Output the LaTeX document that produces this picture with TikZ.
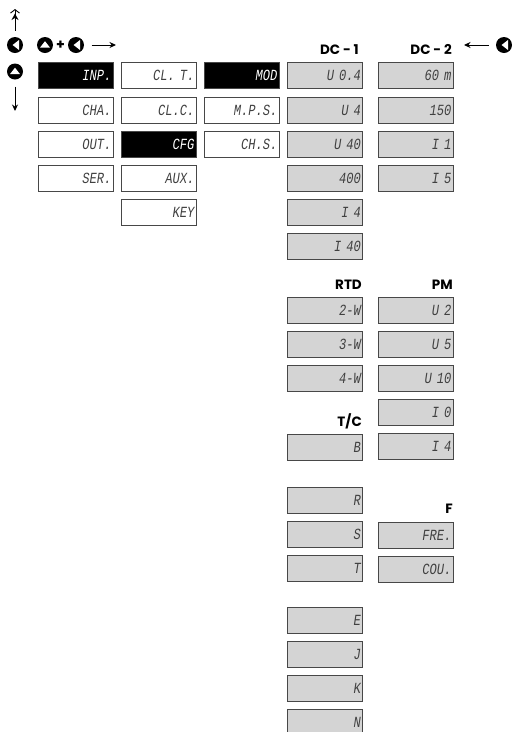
\documentclass[tikz,border=0pt]{standalone}
\usepackage{fontspec}
\setmainfont[FakeStretch=0.78]{Liberation Mono}
\newfontfamily\headfont{Poppins}
\usetikzlibrary{arrows.meta}

\begin{document}
\begin{tikzpicture}[x=1pt,y=-1pt]
\tikzset{
  menubox/.style={rectangle,draw=black!72,line width=0.8pt,minimum width=75pt,minimum height=26pt,inner sep=0pt,outer sep=0pt,text width=72pt,align=right,font=\fontsize{15.5}{15.5}\selectfont\itshape,text=black!75},
  plainbox/.style={menubox,fill=white},
  activebox/.style={menubox,fill=black,text=white},
  optionbox/.style={menubox,fill=black!17},
  headlabel/.style={anchor=base east,inner sep=0pt,font=\headfont\bfseries\fontsize{13.5}{13.5}\selectfont},
  keybase/.style={circle,fill=black,minimum size=16pt,inner sep=0pt,outer sep=0pt},
  keyup/.style={keybase,path picture={\fill[white] ([shift={(-5,2.6)}]path picture bounding box.center) -- ([shift={(5,2.6)}]path picture bounding box.center) -- ([shift={(0,-3.8)}]path picture bounding box.center) -- cycle;}},
  keyleft/.style={keybase,path picture={\fill[white] ([shift={(-2.4,0)}]path picture bounding box.center) -- ([shift={(4,-5)}]path picture bounding box.center) -- ([shift={(4,5)}]path picture bounding box.center) -- cycle;}},
  keyarrow/.style={draw=black,line width=1pt,-{Stealth[length=6.5pt,width=6pt]}},
  fastarrow/.style={draw=black,line width=1pt,-{Stealth[length=6.5pt,width=7pt] Straight Barb[length=3.5pt,width=9pt,line width=0.9pt]}}
}
\useasboundingbox (0,0) rectangle (512,732);
\node[keyleft] (k_back) at (15,45) {};
\node[keyup] (k_down) at (15,71.5) {};
\node[keyup] (k_plusa) at (45,45) {};
\node[inner sep=0pt,font=\headfont\bfseries\fontsize{14}{14}\selectfont] (k_plus) at (60.5,45) {+};
\node[keyleft] (k_plusb) at (76,45) {};
\node[keyleft] (k_prev) at (504,45) {};
\coordinate (c_up) at (15,9);
\coordinate (c_down) at (15,111);
\coordinate (c_next) at (116,45);
\coordinate (c_prev) at (464,45);
\node[activebox] (m_inp) at (75.5,75.5) {INP.};
\node[plainbox] (m_cha) at (75.5,110) {CHA.};
\node[plainbox] (m_out) at (75.5,144) {OUT.};
\node[plainbox] (m_ser) at (75.5,178) {SER.};
\node[plainbox] (m_clt) at (158.5,75.5) {CL. T.};
\node[plainbox] (m_clc) at (158.5,110) {CL.C.};
\node[activebox] (m_cfg) at (158.5,144) {CFG};
\node[plainbox] (m_aux) at (158.5,178) {AUX.};
\node[plainbox] (m_key) at (158.5,212) {KEY};
\node[activebox] (m_mod) at (241.5,75.5) {MOD};
\node[plainbox] (m_mps) at (241.5,110) {M.P.S.};
\node[plainbox] (m_chs) at (241.5,144) {CH.S.};
\node[headlabel] (h_dca) at (359,54) {DC - 1};
\node[headlabel] (h_dcb) at (452,54) {DC - 2};
\node[headlabel] (h_rtd) at (362,289) {RTD};
\node[headlabel] (h_pm) at (453,289) {PM};
\node[headlabel] (h_tc) at (362,426) {T/C};
\node[headlabel] (h_f) at (453,513) {F};
\node[optionbox] (o_u04) at (325,75.5) {U 0.4};
\node[optionbox] (o_u4) at (325,110) {U 4};
\node[optionbox] (o_u40) at (325,144) {U 40};
\node[optionbox] (o_400) at (325,178) {400};
\node[optionbox] (o_i4) at (325,212) {I 4};
\node[optionbox] (o_i40) at (325,246) {I 40};
\node[optionbox] (o_60m) at (415.5,75.5) {60 m};
\node[optionbox] (o_150) at (415.5,110) {150};
\node[optionbox] (o_i1) at (415.5,144) {I 1};
\node[optionbox] (o_i5) at (415.5,178) {I 5};
\node[optionbox] (o_2w) at (325,310) {2-W};
\node[optionbox] (o_3w) at (325,344) {3-W};
\node[optionbox] (o_4w) at (325,378) {4-W};
\node[optionbox] (o_b) at (325,447) {B};
\node[optionbox] (o_r) at (325,500) {R};
\node[optionbox] (o_s) at (325,534) {S};
\node[optionbox] (o_t) at (325,568) {T};
\node[optionbox] (o_e) at (325,620) {E};
\node[optionbox] (o_j) at (325,654) {J};
\node[optionbox] (o_k) at (325,688) {K};
\node[optionbox] (o_n) at (325,722) {N};
\node[optionbox] (o_u2) at (415.5,310) {U 2};
\node[optionbox] (o_u5) at (415.5,344) {U 5};
\node[optionbox] (o_u10) at (415.5,378) {U 10};
\node[optionbox] (o_i0) at (415.5,412) {I 0};
\node[optionbox] (o_i4b) at (415.5,446) {I 4};
\node[optionbox] (o_fre) at (415.5,535) {FRE.};
\node[optionbox] (o_cou) at (415.5,569) {COU.};
\draw[fastarrow,shorten <=6.5pt] (k_back) -- (c_up);
\draw[keyarrow,shorten <=7pt] (k_down) -- (c_down);
\draw[keyarrow,shorten <=7.5pt] (k_plusb) -- (c_next);
\draw[keyarrow,shorten <=7.5pt] (k_prev) -- (c_prev);
\end{tikzpicture}
\end{document}
